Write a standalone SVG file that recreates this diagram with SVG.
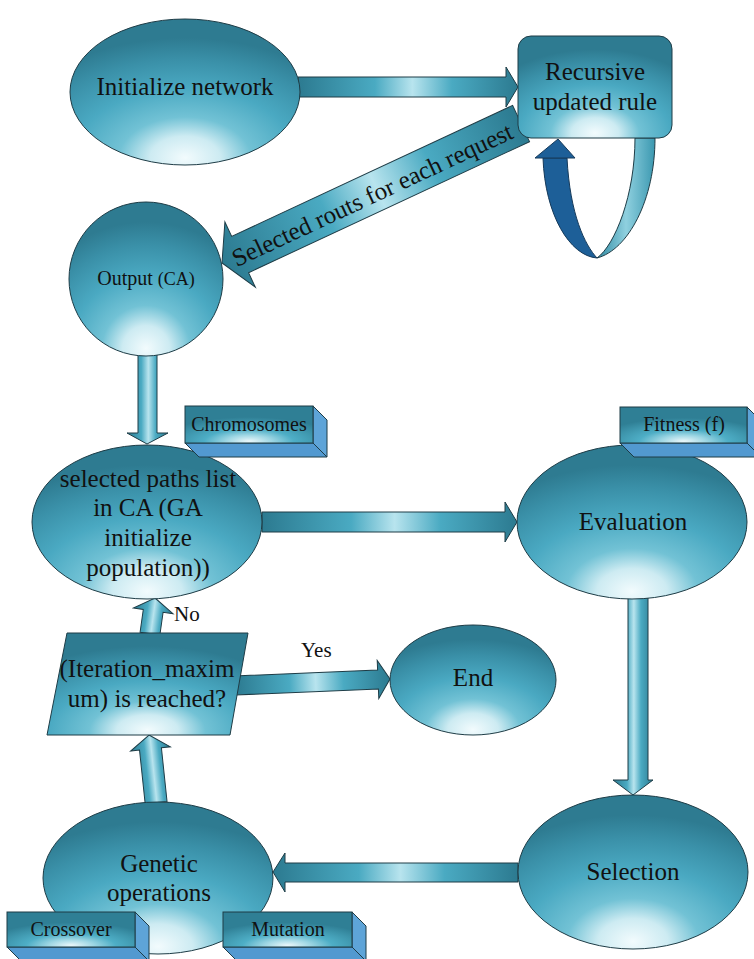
<svg xmlns="http://www.w3.org/2000/svg" width="754" height="959" viewBox="0 0 754 959">
<style>
  text { font-family: "Liberation Serif", "Times New Roman", serif; fill: #111; }
  .lbl { font-size: 25px; text-anchor: middle; }
  .sm { font-size: 20px; text-anchor: middle; }
  .node { fill: url(#gNode); stroke: #1e3c46; stroke-width: 1; }
  .arr { fill: url(#gArr); stroke: #1e3c46; stroke-width: 1; }
  .face { fill: url(#gBox); stroke: #1e3c46; stroke-width: 1; }
  .side { fill: #5ea4d8; stroke: #1e3c46; stroke-width: 1; }
  .bot { fill: #5299d0; stroke: #1e3c46; stroke-width: 1; }
</style>
<defs>
  <radialGradient id="gNode" cx="0.5" cy="0.98" r="0.85" fx="0.5" fy="0.95">
    <stop offset="0" stop-color="#f2fbfd"/>
    <stop offset="0.18" stop-color="#cdebf2"/>
    <stop offset="0.34" stop-color="#72c2d5"/>
    <stop offset="0.58" stop-color="#4aa9c2"/>
    <stop offset="0.82" stop-color="#3a90a8"/>
    <stop offset="1" stop-color="#2e7b91"/>
  </radialGradient>
  <radialGradient id="gBox" cx="0.5" cy="1" r="0.7" fx="0.5" fy="0.95">
    <stop offset="0" stop-color="#eaf7fa"/>
    <stop offset="0.25" stop-color="#9fd7e4"/>
    <stop offset="0.5" stop-color="#4eaec6"/>
    <stop offset="1" stop-color="#2f7f95"/>
  </radialGradient>
  <linearGradient id="gArr" x1="0" y1="0" x2="1" y2="0">
    <stop offset="0" stop-color="#2c7a90"/>
    <stop offset="0.35" stop-color="#4aaac2"/>
    <stop offset="0.52" stop-color="#b8e4ee"/>
    <stop offset="0.7" stop-color="#4aaac2"/>
    <stop offset="1" stop-color="#2c7a90"/>
  </linearGradient>
  <linearGradient id="gLoop" x1="0" y1="0" x2="1" y2="0">
    <stop offset="0" stop-color="#2f8aa2"/>
    <stop offset="0.5" stop-color="#8fd0df"/>
    <stop offset="1" stop-color="#3b98b0"/>
  </linearGradient>
</defs>

<g id="connectors">
  <!-- Initialize -> Recursive -->
  <polygon class="arr" points="298,77 506,77 506,67 518,87 506,107 506,97 298,97"/>
  <!-- Recursive -> Output (labelled) -->
  <g transform="translate(222,263) rotate(-25)">
    <polygon class="arr" points="0,0 20,-36 20,-20 330,-20 330,20 20,20 20,36"/>
    <text x="165" y="10" style="font-size:25px;text-anchor:middle">Selected routs for each request</text>
  </g>
  <!-- Recursive loop -->
  <path d="M597,258 C628,250 655,200 655,138 L635,138 C635,195 615,245 597,258 Z" fill="url(#gLoop)" stroke="#1e3c46" stroke-width="1"/>
  <path d="M543,158 C545,215 570,256 597,258 C585,245 570,215 567,158 Z" fill="#1d5f98" stroke="#163a5a" stroke-width="1"/>
  <polygon points="535,158 575,158 558,139" fill="#1d5f98" stroke="#163a5a" stroke-width="1"/>
  <!-- Output -> selected paths -->
  <polygon class="arr" points="138,354 157,354 157,433 168,433 147,444 127,433 138,433"/>
  <!-- selected -> Evaluation -->
  <polygon class="arr" points="262,512 505,512 505,502 517,522 505,542 505,532 262,532"/>
  <!-- Evaluation -> Selection -->
  <polygon class="arr" points="628,598 648,598 648,780 653,780 633,795 613,780 628,780"/>
  <!-- Selection -> Genetic -->
  <polygon class="arr" points="518,863 285,863 285,853 273,872 285,892 285,882 518,882"/>
  <!-- Genetic -> decision -->
  <g transform="translate(149,735) rotate(-6)">
    <polygon class="arr" points="0,0 20,14 11,14 11,68 -11,68 -11,14 -20,14"/>
  </g>
  <!-- decision -> selected (No) -->
  <g transform="translate(155,598) rotate(8)">
    <polygon class="arr" points="0,0 20,13 10,13 10,36 -10,36 -10,13 -20,13"/>
  </g>
  <text x="174" y="621" style="font-size:21px">No</text>
  <!-- decision -> End (Yes) -->
  <g transform="translate(390,679) rotate(-2.4)">
    <polygon class="arr" points="0,0 -12,-19 -12,-9.5 -155,-9.5 -155,9.5 -12,9.5 -12,19"/>
  </g>
  <text x="301" y="657" style="font-size:21px">Yes</text>
</g>

<g id="init">
  <ellipse class="node" cx="185" cy="92" rx="115" ry="73"/>
  <text class="lbl" x="185" y="95">Initialize network</text>
</g>

<g id="recursive">
  <rect class="node" x="518" y="36" width="154" height="102" rx="13"/>
  <text class="lbl" x="595" y="80">Recursive</text>
  <text class="lbl" x="595" y="110">updated rule</text>
</g>

<g id="output">
  <circle class="node" cx="146" cy="279" r="77"/>
  <text x="146" y="285" style="font-size:20px;text-anchor:middle">Output <tspan style="font-size:18px">(CA)</tspan></text>
</g>

<g id="selected">
  <ellipse class="node" cx="147" cy="522" rx="115" ry="77"/>
  <text class="lbl" x="148" y="487">selected paths list</text>
  <text class="lbl" x="148" y="516">in CA (GA</text>
  <text class="lbl" x="148" y="546">initialize</text>
  <text class="lbl" x="148" y="576">population))</text>
</g>

<g id="chromosomes">
  <polygon class="bot" points="185,443 313,443 327,457 199,457"/>
  <polygon class="side" points="313,406 327,420 327,457 313,443"/>
  <rect class="face" x="185" y="406" width="128" height="37"/>
  <text class="sm" x="249" y="431">Chromosomes</text>
</g>

<g id="evaluation">
  <ellipse class="node" cx="632" cy="522" rx="115" ry="77"/>
  <text class="lbl" x="633" y="530">Evaluation</text>
</g>

<g id="fitness">
  <polygon class="bot" points="620,443 747,443 761,457 634,457"/>
  <polygon class="side" points="747,407 761,421 761,457 747,443"/>
  <rect class="face" x="620" y="407" width="127" height="36"/>
  <text class="sm" x="684" y="431">Fitness (f)</text>
</g>

<g id="decision">
  <polygon class="node" points="67,633 248,633 230,735 47,735"/>
  <text class="lbl" x="147" y="677">(Iteration_maxim</text>
  <text class="lbl" x="147" y="707">um) is reached?</text>
</g>

<g id="end">
  <ellipse class="node" cx="473" cy="680" rx="83" ry="55"/>
  <text class="lbl" x="473" y="686">End</text>
</g>

<g id="selection">
  <ellipse class="node" cx="633" cy="872" rx="115" ry="77"/>
  <text class="lbl" x="633" y="880">Selection</text>
</g>

<g id="genetic">
  <ellipse class="node" cx="158" cy="878" rx="115" ry="76"/>
  <text class="lbl" x="159" y="872">Genetic</text>
  <text class="lbl" x="159" y="901">operations</text>
</g>

<g id="crossover">
  <polygon class="bot" points="7,947 135,947 149,961 21,961"/>
  <polygon class="side" points="135,912 149,926 149,961 135,947"/>
  <rect class="face" x="7" y="912" width="128" height="35"/>
  <text class="sm" x="71" y="936">Crossover</text>
</g>

<g id="mutation">
  <polygon class="bot" points="223,947 352,947 366,961 237,961"/>
  <polygon class="side" points="352,912 366,926 366,961 352,947"/>
  <rect class="face" x="223" y="912" width="129" height="35"/>
  <text class="sm" x="288" y="936">Mutation</text>
</g>
</svg>
